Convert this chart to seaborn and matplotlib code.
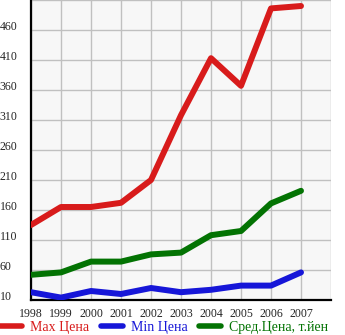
import matplotlib
matplotlib.use("Agg")
import matplotlib.pyplot as plt
import seaborn as sns
import pandas as pd

years = [1998, 1999, 2000, 2001, 2002, 2003, 2004, 2005, 2006, 2007]
max_price = [135, 165, 165, 172, 210, 318, 413, 367, 496, 500]
min_price = [23, 14, 25, 20, 30, 23, 27, 34, 34, 56]
avg_price = [52, 56, 74, 74, 86, 89, 118, 125, 171, 192]
series_names = ["Max Цена", "Min Цена", "Сред.Цена, т.йен"]
colors = ["#d81b1b", "#1616d8", "#037303"]
y_ticks = [10, 60, 110, 160, 210, 260, 310, 360, 410, 460]

df = pd.concat([
    pd.DataFrame({"year": years, "value": vals, "series": name})
    for name, vals in zip(series_names, [max_price, min_price, avg_price])
])

sns.set_style("white")
plt.rcParams["font.family"] = ["Liberation Serif", "DejaVu Serif"]

fig = plt.figure(figsize=(3.45, 3.35), dpi=100)
ax = fig.add_axes([31/345, 1 - 300/335, 300/345, 300/335])
ax.set_facecolor("#f7f7f7")

sns.lineplot(data=df, x="year", y="value", hue="series", palette=colors,
             hue_order=series_names, linewidth=4.3, ax=ax, legend=True,
             solid_capstyle="round", solid_joinstyle="round", zorder=3)

ax.set_xlim(1998, 2008)
ax.set_ylim(10, 510)
ax.set_xticks(years + [2008])
ax.set_xticklabels([str(y) for y in years] + [""], fontsize=8.6)
ax.set_yticks(y_ticks + [510])
ax.set_yticklabels([str(v) for v in y_ticks] + [""], fontsize=8.6)
for lab in ax.get_yticklabels():
    lab.set_horizontalalignment("left")
    lab.set_verticalalignment("baseline")
ax.tick_params(axis="y", length=2.5, width=1, color="black", pad=20.0)
ax.tick_params(axis="x", length=2.5, width=1, color="black", pad=3)
ax.grid(True, color="#c0c0c0", linewidth=1.0, zorder=0)
ax.set_axisbelow(True)
ax.set_xlabel("")
ax.set_ylabel("")
for s in ["top", "right"]:
    ax.spines[s].set_visible(False)
for s in ["left", "bottom"]:
    ax.spines[s].set_color("black")
    ax.spines[s].set_linewidth(1.6)

handles, labels = ax.get_legend_handles_labels()
ax.get_legend().remove()
for h in handles:
    h.set_linewidth(4.0)
    h.set_solid_capstyle("round")
leg = fig.legend(handles, labels, loc="center left", bbox_to_anchor=(0.0, 8/335),
                 ncol=3, frameon=False, fontsize=10, handlelength=1.6,
                 handletextpad=0.58, columnspacing=0.8, borderpad=0,
                 borderaxespad=0, labelcolor="linecolor")

fig.savefig("out.png", dpi=100)
